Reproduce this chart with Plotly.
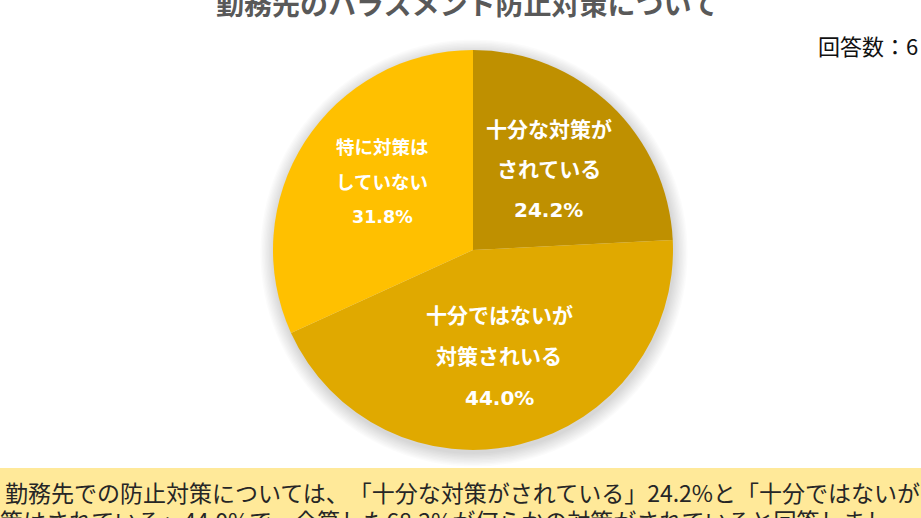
import math
import plotly.graph_objects as go

# ---- data ----
categories = ["十分な対策が<br>されている", "十分ではないが<br>対策されいる", "特に対策は<br>していない"]
values = [24.2, 44.0, 31.8]
colors = ["#BF9000", "#E0A900", "#FFC000"]
title_text = "勤務先のハラスメント防止対策について"
count_text = "回答数：6"
note_line1 = "勤務先での防止対策については、「十分な対策がされている」24.2%と「十分ではないが"
note_line2 = "対策はされている」44.0%で、合算した68.2%が何らかの対策がされていると回答しまし"

W, H = 921, 518
FONT = "Noto Sans CJK JP"
LABEL_FONT = "DejaVu Sans, Noto Sans CJK JP"
label_sizes = [21, 21, 18.5]
pct_sizes = [20, 20, 17.5]
label_steps = [40, 41, 35]
label_nudge = [(0, 0), (0, 0), (2, -8)]

# pie geometry (pixels)
cx, cy, R = 473, 250, 200

fig = go.Figure()
fig.add_trace(go.Pie(
    labels=[c.replace("<br>", "") for c in categories],
    values=values,
    sort=False,
    direction="clockwise",
    rotation=0,
    marker=dict(colors=colors, line=dict(width=0)),
    textinfo="none",
    hoverinfo="label+percent",
    showlegend=False,
    domain=dict(x=[(cx - R) / W, (cx + R) / W], y=[1 - (cy + R) / H, 1 - (cy - R) / H]),
))

# slice labels positioned from the data (bisector angle of each slice)
total = sum(values)
cum = 0.0
annotations = []
for cat, v, fs, pfs, step, (nx, ny) in zip(categories, values, label_sizes, pct_sizes,
                                            label_steps, label_nudge):
    theta = 2 * math.pi * (cum + v / 2) / total
    cum += v
    r = 0.55 * R
    px = cx + r * math.sin(theta) + nx
    py = cy - r * math.cos(theta) + ny
    lines = cat.split("<br>") + [f"{v:.1f}%"]
    n = len(lines)
    for i, ln in enumerate(lines):
        ly = py + (i - (n - 1) / 2) * step
        annotations.append(dict(
            x=px / W, y=1 - ly / H, xref="paper", yref="paper",
            text=f"<b>{ln}</b>", showarrow=False, xanchor="center", yanchor="middle",
            font=dict(family=LABEL_FONT, size=pfs if i == n - 1 else fs, color="white"),
        ))

# title, count, note
annotations.append(dict(
    x=467 / W, y=1 - 3 / H, xref="paper", yref="paper", text=f"<b>{title_text}</b>",
    showarrow=False, xanchor="center", yanchor="middle",
    font=dict(family=FONT, size=28, color="#595959"),
))
annotations.append(dict(
    x=816 / W, y=1 - 45 / H, xref="paper", yref="paper", text=count_text,
    showarrow=False, xanchor="left", yanchor="middle",
    font=dict(family=FONT, size=22, color="#111111"),
))
NOTE_STYLE = "text-spacing-trim:space-all"
annotations.append(dict(
    x=3 / W, y=1 - 492 / H, xref="paper", yref="paper",
    text=f'<span style="{NOTE_STYLE}">{note_line1}</span>',
    showarrow=False, xanchor="left", yanchor="middle", align="left",
    font=dict(family=FONT, size=23, color="#262626"),
))
annotations.append(dict(
    x=-25 / W, y=1 - 520 / H, xref="paper", yref="paper",
    text=f'<span style="{NOTE_STYLE}">{note_line2}</span>',
    showarrow=False, xanchor="left", yanchor="middle", align="left",
    font=dict(family=FONT, size=23, color="#262626"),
))

# soft drop shadow behind the pie
shapes = []
scx, scy = cx + 1, cy + 3
for k in range(10):
    rr = R + 1 + k * 1.4
    shapes.append(dict(
        type="circle", xref="paper", yref="paper", layer="below",
        x0=(scx - rr) / W, x1=(scx + rr) / W, y0=1 - (scy + rr) / H, y1=1 - (scy - rr) / H,
        fillcolor="rgba(0,0,0,0.014)", line=dict(width=0),
    ))
# note box
shapes.append(dict(
    type="rect", xref="paper", yref="paper", layer="below",
    x0=0, x1=1, y0=0, y1=1 - 468 / H,
    fillcolor="#FFE999", line=dict(width=0),
))

fig.update_layout(
    width=W, height=H,
    margin=dict(l=0, r=0, t=0, b=0),
    paper_bgcolor="white", plot_bgcolor="white",
    annotations=annotations, shapes=shapes,
    font=dict(family=FONT),
)

fig.write_html(
    "out.html",
    config={"displayModeBar": False},
    post_script="document.body.style.margin='0';document.body.style.overflow='hidden';",
)
